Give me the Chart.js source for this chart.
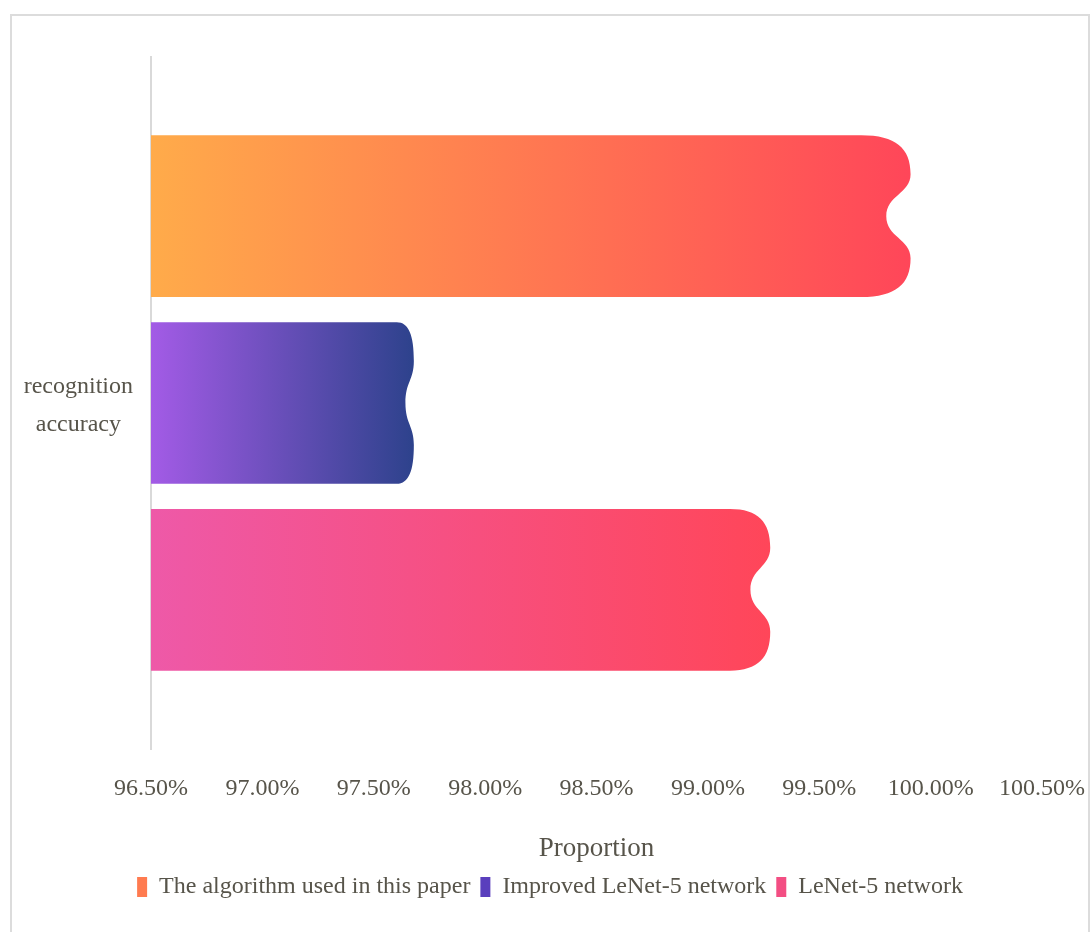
<!DOCTYPE html>
<html>
<head>
<meta charset="utf-8">
<script src="https://cdn.jsdelivr.net/npm/chart.js@4.4.1/dist/chart.umd.min.js"></script>
<style>
  html, body { margin: 0; padding: 0; background: #ffffff; }
  #wrap { position: relative; width: 1090px; height: 932px; overflow: hidden; }
  #frame { position: absolute; left: 10px; top: 14px; width: 1076px; height: 940px;
           border: 2px solid #dcdcdc; border-bottom: none; pointer-events: none; }
  canvas { position: absolute; left: 0; top: 0; }
</style>
</head>
<body>
<div id="wrap">
  <canvas id="c" width="1090" height="932"></canvas>
  <div id="frame"></div>
</div>
<script>
// ---- data ----
const categories = [['recognition', 'accuracy']];
const seriesNames = ['The algorithm used in this paper', 'Improved LeNet-5 network', 'LeNet-5 network'];
const algorithmValues = [99.91];
const improvedLeNetValues = [97.68];
const leNetValues = [99.28];
const xTickValues = [96.5, 97.0, 97.5, 98.0, 98.5, 99.0, 99.5, 100.0, 100.5];
const axisMin = 96.5;
const axisMax = 100.5;
const axisTitle = 'Proportion';

// ---- styles ----
const gradStops = [
  ['#ffab4a', '#ff4659'],
  ['#a35be6', '#2d428c'],
  ['#ee59a8', '#ff4659']
];
const legendColors = ['#ff7b50', '#5a3fbd', '#f34e83'];
const textColor = '#57544a';
const fontFamily = "'Liberation Serif', 'Times New Roman', serif";

const seriesValues = [algorithmValues, improvedLeNetValues, leNetValues];

const wavyBars = {
  id: 'wavyBars',
  afterDatasetsDraw(chart) {
    const ctx = chart.ctx;
    chart.data.datasets.forEach((ds, di) => {
      const meta = chart.getDatasetMeta(di);
      if (meta.hidden) return;
      meta.data.forEach(el => {
        const p = el.getProps(['x', 'y', 'base', 'height'], true);
        const B = p.base, E = p.x, T = p.y - p.height / 2, Bo = p.y + p.height / 2, h = p.height;
        const L = E - B;
        const cw = 0.065 * L;
        const nd = 0.032 * L;
        const g = ctx.createLinearGradient(B, 0, E, 0);
        g.addColorStop(0, gradStops[di][0]);
        g.addColorStop(1, gradStops[di][1]);
        ctx.save();
        ctx.beginPath();
        ctx.moveTo(B, T);
        ctx.lineTo(E - cw, T);
        ctx.bezierCurveTo(E - cw * 0.3, T, E, T + h * 0.08, E, T + h * 0.24);
        ctx.bezierCurveTo(E, T + h * 0.36, E - nd, T + h * 0.37, E - nd, T + h * 0.5);
        ctx.bezierCurveTo(E - nd, T + h * 0.63, E, T + h * 0.64, E, T + h * 0.76);
        ctx.bezierCurveTo(E, T + h * 0.92, E - cw * 0.3, Bo, E - cw, Bo);
        ctx.lineTo(B, Bo);
        ctx.closePath();
        ctx.fillStyle = g;
        ctx.fill();
        ctx.restore();
      });
    });
  }
};

const legendShift = {
  id: 'legendShift',
  afterLayout(chart) {
    if (chart.legend) { chart.legend.left += 29; chart.legend.right += 29; }
  }
};

new Chart(document.getElementById('c'), {
  type: 'bar',
  data: {
    labels: categories,
    datasets: seriesNames.map((name, i) => ({
      label: name,
      data: seriesValues[i],
      base: axisMin,
      backgroundColor: 'rgba(0,0,0,0)',
      borderWidth: 0,
      categoryPercentage: 0.81,
      barPercentage: 0.865
    }))
  },
  options: {
    indexAxis: 'y',
    responsive: false,
    animation: false,
    layout: { padding: { top: 57, right: 48, bottom: 23, left: 0 } },
    scales: {
      x: {
        min: axisMin,
        max: axisMax,
        afterBuildTicks(scale) { scale.ticks = xTickValues.map(v => ({ value: v })); },
        grid: { display: false },
        border: { display: false },
        ticks: {
          autoSkip: false,
          maxRotation: 0,
          padding: 17,
          color: textColor,
          font: { family: fontFamily, size: 24 },
          callback: v => Number(v).toFixed(2) + '%'
        },
        title: {
          display: true,
          text: axisTitle,
          color: textColor,
          font: { family: fontFamily, size: 27 },
          padding: { top: 0, bottom: 0 }
        },
        afterFit(scale) { scale.height = 116; scale.paddingLeft = 0; scale.paddingRight = 0; }
      },
      y: {
        grid: { display: false, drawTicks: false },
        border: { display: true, color: '#d9d9d9', width: 2 },
        ticks: {
          color: textColor,
          crossAlign: 'center',
          padding: 18,
          labelOffset: 3,
          font: { family: fontFamily, size: 24, lineHeight: 1.58 }
        },
        afterFit(scale) { scale.width = 151; scale.paddingTop = 0; scale.paddingBottom = 0; }
      }
    },
    plugins: {
      tooltip: { enabled: false },
      legend: {
        position: 'bottom',
        labels: {
          boxWidth: 10,
          boxHeight: 20,
          padding: 10,
          color: textColor,
          font: { family: fontFamily, size: 24 },
          generateLabels(chart) {
            return chart.data.datasets.map((ds, i) => ({
              text: ds.label,
              fillStyle: legendColors[i],
              strokeStyle: 'rgba(0,0,0,0)',
              lineWidth: 0,
              fontColor: textColor,
              hidden: false,
              datasetIndex: i
            }));
          }
        }
      }
    }
  },
  plugins: [wavyBars, legendShift]
});
</script>
</body>
</html>
